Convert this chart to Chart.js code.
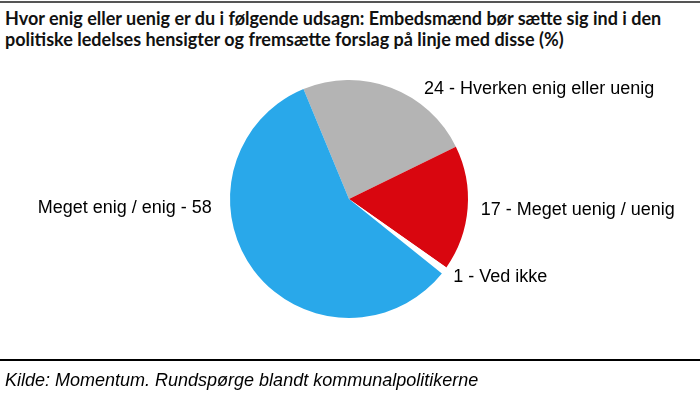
<!DOCTYPE html>
<html>
<head>
<meta charset="utf-8">
<script src="https://cdn.jsdelivr.net/npm/chart.js@4.4.1/dist/chart.umd.min.js"></script>
<style>
  body { margin: 0; background: #fff; }
  #wrap { position: relative; width: 700px; height: 394px; overflow: hidden; }
  #topline { position: absolute; left: 0; top: 1px; width: 700px; height: 2px; background: #555; }
  #title { position: absolute; left: 5px; top: 8px; font: bold 18px Lato, sans-serif; line-height: 21px; color: #111; white-space: nowrap; }
  #footline { position: absolute; left: 0; top: 359px; width: 700px; height: 2px; background: #000; }
  #source { position: absolute; left: 5px; top: 370px; font: italic 18px "Liberation Sans", Arial, sans-serif; color: #000; white-space: nowrap; }
  canvas { position: absolute; left: 0; top: 0; }
</style>
</head>
<body>
<div id="wrap">
  <div id="topline"></div>
  <div id="title">Hvor enig eller uenig er du i følgende udsagn: Embedsmænd bør sætte sig ind i den<br>politiske ledelses hensigter og fremsætte forslag på linje med disse (%)</div>
  <canvas id="chart1" width="700" height="394"></canvas>
  <div id="footline"></div>
  <div id="source">Kilde: Momentum. Rundspørge blandt kommunalpolitikerne</div>
</div>
<script>
// Svarfordeling i procent
var categories = ['Hverken enig eller uenig', 'Meget uenig / uenig', 'Ved ikke', 'Meget enig / enig'];
var values = [24, 17, 1, 58];
var labelTexts = ['24 - Hverken enig eller uenig', '17 - Meget uenig / uenig', '1 - Ved ikke', 'Meget enig / enig - 58'];

var colors = ['#b4b4b4', '#d9060f', '#ffffff', '#29a8ea'];
// label placement relative to the slice's outer edge at its middle angle
var labelOffsets = [[33, 6], [13, 7], [9, 12], [-42, -57]];
var labelAlign = ['left', 'left', 'left', 'right'];

var sliceLabels = {
  id: 'sliceLabels',
  afterDatasetsDraw: function(chart) {
    var c = chart.ctx;
    var meta = chart.getDatasetMeta(0);
    c.save();
    c.font = '18px "Liberation Sans", Arial, sans-serif';
    c.fillStyle = '#000';
    c.textBaseline = 'alphabetic';
    meta.data.forEach(function(arc, i) {
      var p = arc.getProps(['x', 'y', 'startAngle', 'endAngle', 'outerRadius'], true);
      var mid = (p.startAngle + p.endAngle) / 2;
      var ex = p.x + Math.cos(mid) * p.outerRadius;
      var ey = p.y + Math.sin(mid) * p.outerRadius;
      c.textAlign = labelAlign[i];
      c.fillText(labelTexts[i], ex + labelOffsets[i][0], ey + labelOffsets[i][1]);
    });
    c.restore();
  }
};

var ctx1 = document.getElementById('chart1').getContext('2d');
var chart1 = new Chart(ctx1, {
  type: 'pie',
  data: {
    labels: categories,
    datasets: [{
      data: values,
      backgroundColor: colors,
      borderWidth: 0,
      hoverOffset: 0
    }]
  },
  options: {
    responsive: false,
    animation: false,
    rotation: -22.5,
    radius: 119,
    layout: { padding: { left: 230, right: 232, top: 80, bottom: 76 } },
    plugins: {
      legend: { display: false },
      tooltip: { enabled: false },
      title: { display: false }
    }
  },
  plugins: [sliceLabels]
});
</script>
</body>
</html>
